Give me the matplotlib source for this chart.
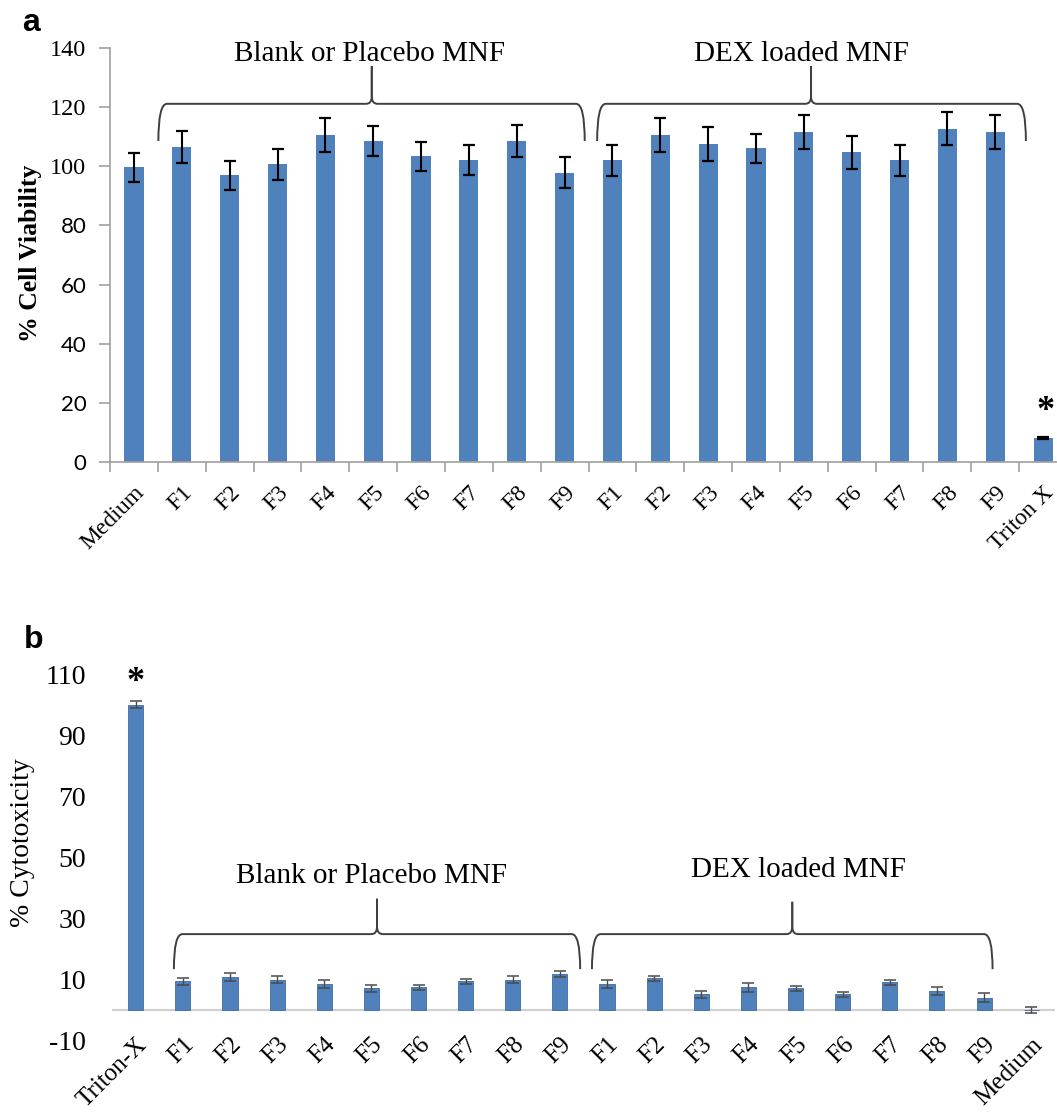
import matplotlib
matplotlib.use('Agg')
import matplotlib.pyplot as plt
from matplotlib.path import Path
from matplotlib.patches import PathPatch

plt.rcParams['axes.unicode_minus'] = False

cats_a = ['Medium', 'F1', 'F2', 'F3', 'F4', 'F5', 'F6', 'F7', 'F8', 'F9',
          'F1', 'F2', 'F3', 'F4', 'F5', 'F6', 'F7', 'F8', 'F9', 'Triton X']
viab = [99.7, 106.5, 97.0, 100.7, 110.6, 108.6, 103.4, 102.3, 108.6, 97.9,
        102.1, 110.6, 107.5, 106.1, 111.6, 104.8, 102.1, 112.8, 111.6, 8.0]
viab_err = [5.0, 5.5, 5.0, 5.2, 5.7, 5.0, 5.0, 5.1, 5.5, 5.3,
            5.2, 5.7, 5.7, 5.0, 5.7, 5.6, 5.3, 5.5, 5.7, 0.3]

cats_b = ['Triton-X', 'F1', 'F2', 'F3', 'F4', 'F5', 'F6', 'F7', 'F8', 'F9',
          'F1', 'F2', 'F3', 'F4', 'F5', 'F6', 'F7', 'F8', 'F9', 'Medium']
cyto = [100.1, 9.4, 10.8, 10.0, 8.5, 7.1, 7.4, 9.4, 10.0, 11.7,
        8.5, 10.4, 5.1, 7.4, 7.1, 5.1, 9.1, 6.1, 4.0, 0.0]
cyto_err = [1.2, 1.2, 1.3, 1.2, 1.3, 1.2, 0.9, 0.9, 1.2, 1.0,
            1.3, 0.9, 1.3, 1.5, 0.8, 0.9, 0.8, 1.3, 1.5, 1.0]

SERIF = 'Liberation Serif'
BLUE = '#4f81bd'
AXGRAY = '#a0a0a0'
BRACE = '#3f3f3f'


def brace(ax, x0, x1, xm, yb, yh, yt, dx, dxm, c):
    # curly bracket drawn as two mirrored halves
    for xe, s in ((x0, 1), (x1, -1)):
        verts = [(xe, yb), (xe, yh), (xe + s * dx, yh),
                 (xm - s * dxm, yh), (xm, yh), (xm, yh + c), (xm, yt)]
        codes = [Path.MOVETO, Path.CURVE3, Path.CURVE3, Path.LINETO,
                 Path.CURVE3, Path.CURVE3, Path.LINETO]
        ax.add_patch(PathPatch(Path(verts, codes), fill=False, edgecolor=BRACE,
                               lw=1.4, clip_on=False))


fig = plt.figure(figsize=(10.57, 11.13), dpi=100)

# panel a
ax1 = fig.add_axes([0.1041, 0.5852, 0.9054, 0.3714])
x = range(len(cats_a))
ax1.bar(x, viab, width=0.40, color=BLUE, zorder=2)
ax1.errorbar(x, viab, yerr=viab_err, fmt='none', ecolor='black',
             elinewidth=1.5, capsize=4.5, capthick=1.6, zorder=3)
ax1.set_xlim(-0.5, len(cats_a) - 0.5)
ax1.set_ylim(0, 140)
yt = list(range(0, 141, 20))
ax1.set_yticks(yt)
ax1.set_xticks(list(x))
ax1.set_xticklabels(cats_a, rotation=45, ha='right', va='top',
                    rotation_mode='anchor', family=SERIF, fontsize=17)
ax1.set_xticks([i - 0.5 for i in range(len(cats_a) + 1)], minor=True)
ax1.tick_params(axis='x', which='major', length=0, pad=15)
ax1.tick_params(axis='x', which='minor', length=7, color=AXGRAY, width=1.2)
ax1.tick_params(axis='y', length=8, color=AXGRAY, width=1.2, pad=9)
for v, lab in zip(yt, ax1.get_yticklabels()):
    if v >= 100:
        lab.set_family(SERIF)
        lab.set_fontsize(17.5)
    else:
        lab.set_family('Lato')
        lab.set_fontsize(16)
for s in ('top', 'right'):
    ax1.spines[s].set_visible(False)
for s in ('left', 'bottom'):
    ax1.spines[s].set_color(AXGRAY)
    ax1.spines[s].set_linewidth(1.2)

brace(ax1, 0.51, 9.42, 4.97, 108.6, 121.2, 134.0, 0.18, 0.12, 2.5)
brace(ax1, 9.68, 18.64, 14.15, 108.6, 121.2, 134.0, 0.18, 0.12, 2.5)
ax1.text(4.93, 138.2, 'Blank or Placebo MNF', ha='center', va='center',
         family=SERIF, fontsize=21, clip_on=False)
ax1.text(13.95, 138.2, 'DEX loaded MNF', ha='center', va='center',
         family=SERIF, fontsize=21, clip_on=False)
ax1.text(19.05, 17.0, '*', ha='center', va='center', fontsize=26,
         fontweight='bold', family=SERIF)

# panel b
ax2 = fig.add_axes([0.1061, 0.0651, 0.8918, 0.3288])
x = range(len(cats_b))
ax2.bar(x, cyto, width=0.32, color=BLUE, edgecolor='#3e6ca3', lw=0.6, zorder=2)
ax2.errorbar(x, cyto, yerr=cyto_err, fmt='none', ecolor='#4a4a4a',
             elinewidth=1.0, capsize=4.5, capthick=1.1, zorder=3)
ax2.axhline(0, color='#d0d0d0', lw=1.5, zorder=1)
ax2.set_xlim(-0.5, len(cats_b) - 0.5)
ax2.set_ylim(-10, 110)
ax2.set_yticks(range(-10, 111, 20))
ax2.set_xticks(list(x))
ax2.set_xticklabels(cats_b, rotation=45, ha='right', va='top',
                    rotation_mode='anchor', family=SERIF, fontsize=18)
for lab in ax2.get_xticklabels():
    lab.set_x(lab.get_position()[0] + 0.12)
ax2.tick_params(axis='x', length=0, pad=-5)
ax2.tick_params(axis='y', length=0, labelsize=20, pad=19)
for lab in ax2.get_yticklabels():
    lab.set_family(SERIF)
for s in ax2.spines.values():
    s.set_visible(False)

brace(ax2, 0.81, 9.43, 5.12, 13.4, 24.9, 36.5, 0.18, 0.12, 2.5)
brace(ax2, 9.68, 18.18, 13.93, 13.4, 24.9, 35.5, 0.18, 0.12, 2.5)
ax2.text(5.0, 44.0, 'Blank or Placebo MNF', ha='center', va='center',
         family=SERIF, fontsize=21)
ax2.text(14.07, 45.8, 'DEX loaded MNF', ha='center', va='center',
         family=SERIF, fontsize=21)
ax2.text(0, 107.5, '*', ha='center', va='center', fontsize=26,
         fontweight='bold', family=SERIF)

fig.text(0.0284, 0.772, '% Cell Viability', rotation=90, ha='center',
         va='center', family=SERIF, fontsize=18.5, fontweight='bold')
fig.text(0.0212, 0.2426, '% Cytotoxicity', rotation=90, ha='center',
         va='center', family=SERIF, fontsize=20)
fig.text(0.021, 0.979, 'a', ha='left', va='center', fontsize=23,
         fontweight='bold', family='Liberation Sans')
fig.text(0.023, 0.425, 'b', ha='left', va='center', fontsize=23,
         fontweight='bold', family='Liberation Sans')

fig.savefig('out.png', dpi=100)
print('saved out.png')
